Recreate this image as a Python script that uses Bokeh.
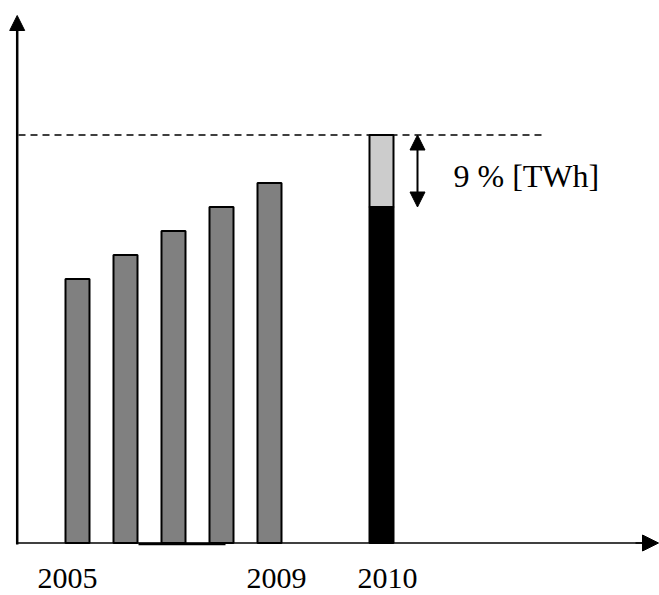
from bokeh.plotting import figure
from bokeh.models import Range1d, Arrow, NormalHead, ColumnDataSource
from bokeh.core.properties import value
from bokeh.embed import file_html
from bokeh.resources import INLINE

# ---- data (arbitrary energy units) ----
years = ["2005", "2006", "2007", "2008", "2009"]
consumption = [11, 12, 13, 14, 15]
year_2010 = "2010"
base_2010 = 14
extra_2010 = 3
extra_label = "9 % [TWh]"
tick_labels = ["2005", "", "", "", "2009", "2010"]

# ---- layout ----
W, H = 659, 595
PX_PER_X = 48.0
X0_PX = 77.0
PX_PER_Y = 24.0
Y0_PX = 542.5
TXT_SHIFT = 10  # svg baseline correction (px)

def ux(px):
    return (px - X0_PX) / PX_PER_X

def uy(py):
    return (Y0_PX - py) / PX_PER_Y

pos = list(range(len(years)))
pos_2010 = ux(381)
BAR_W = 0.5

p = figure(width=W, height=H,
           x_range=Range1d(ux(0), ux(W)), y_range=Range1d(uy(H), uy(0)),
           output_backend="svg", toolbar_location=None, min_border=0,
           x_axis_type=None, y_axis_type=None)
p.outline_line_color = None
p.background_fill_color = "white"
p.border_fill_color = "white"

# bars 2005-2009
p.vbar(x=pos, top=consumption, bottom=0, width=BAR_W,
       fill_color="#808080", line_color="black", line_width=2)

# 2010 stacked bar
total_2010 = base_2010 + extra_2010
p.vbar(x=[pos_2010], top=[base_2010], bottom=0, width=BAR_W,
       fill_color="black", line_color="black", line_width=2)
p.vbar(x=[pos_2010], top=[total_2010], bottom=[base_2010], width=BAR_W,
       fill_color="#cccccc", line_color="black", line_width=2)

# dashed reference line at 2010 total
p.line(x=[ux(18), ux(542)], y=[total_2010, total_2010],
       line_color="black", line_width=1.6, line_dash="7 5")

# x axis line
p.line(x=[ux(16), ux(645)], y=[0, 0], line_color="black", line_width=1.4)
p.add_layout(Arrow(x_start=ux(635), y_start=0, x_end=ux(658), y_end=0,
                   line_color="black", line_width=1.4,
                   end=NormalHead(size=16, fill_color="black",
                                  line_color="black", line_width=1)))
# thick segment under axis
p.line(x=[ux(138), ux(225)], y=[uy(543.5), uy(543.5)],
       line_color="black", line_width=2.5)

# y axis with arrow
p.add_layout(Arrow(x_start=ux(16.7), y_start=uy(544), x_end=ux(16.7), y_end=uy(15),
                   line_color="black", line_width=2.5,
                   end=NormalHead(size=15, fill_color="black",
                                  line_color="black", line_width=1)))

# double arrow for the 2010 increase
p.add_layout(Arrow(x_start=ux(417), y_start=total_2010, x_end=ux(417), y_end=base_2010,
                   line_color="black", line_width=2,
                   start=NormalHead(size=15, fill_color="black",
                                    line_color="black", line_width=1),
                   end=NormalHead(size=15, fill_color="black",
                                  line_color="black", line_width=1)))

p.text(x=[ux(453)], y=[uy(185 - TXT_SHIFT)], text=[extra_label],
       text_font=value("Liberation Serif"), text_font_size="32px",
       text_color="black", text_align="left", text_baseline="alphabetic")

# year labels
label_src = ColumnDataSource(dict(
    x=pos + [pos_2010],
    y=[uy(588 - TXT_SHIFT)] * 6,
    t=tick_labels,
    dx=[-10, 0, 0, 0, 7, 6],
))
p.text(x="x", y="y", text="t", x_offset="dx", source=label_src,
       text_font=value("Liberation Serif"), text_font_size="30px",
       text_color="black", text_align="center", text_baseline="alphabetic")

open("out.html", "w").write(file_html(p, INLINE))
